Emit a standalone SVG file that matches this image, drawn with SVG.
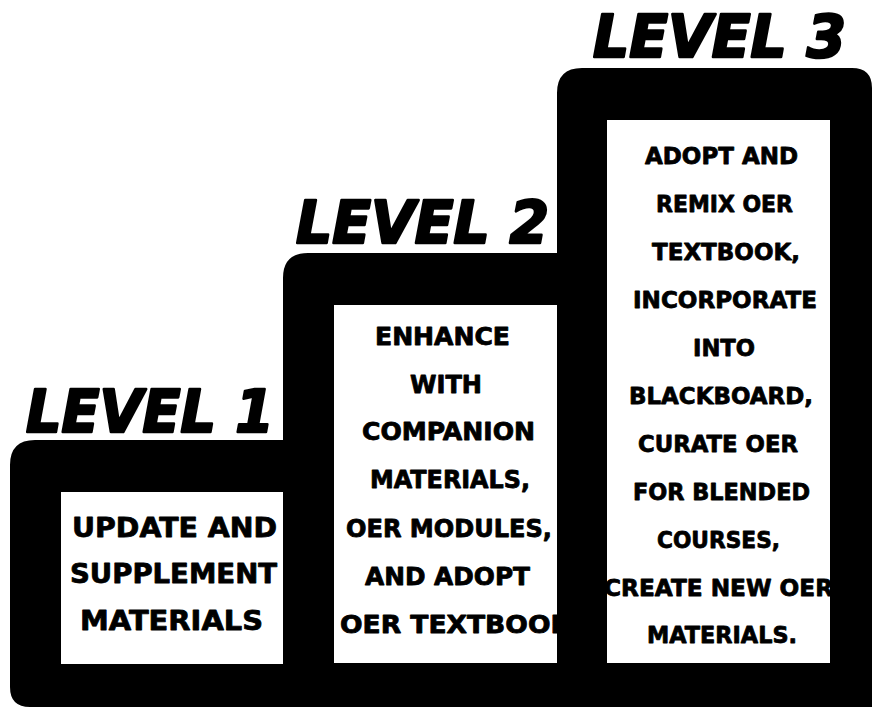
<svg xmlns="http://www.w3.org/2000/svg" width="872" height="709" viewBox="0 0 872 709">
<style>
.title{font-family:"DejaVu Sans","Liberation Sans",sans-serif;font-weight:bold;font-style:italic;font-size:58px;fill:#000;stroke:#000;stroke-width:2.6px;stroke-linejoin:round}
.t{font-family:"DejaVu Sans","Liberation Sans",sans-serif;font-weight:bold;fill:#000;stroke:#000;stroke-width:0.8px;stroke-linejoin:round}
.l1{font-size:27px}
.l2{font-size:24px}
.l3{font-size:23px}
.box{fill:#fff}
</style>
<defs>
<clipPath id="c1"><rect x="61" y="492" width="222" height="172"/></clipPath>
<clipPath id="c2"><rect x="334" y="305" width="223" height="358"/></clipPath>
<clipPath id="c3"><rect x="607" y="120" width="223" height="543"/></clipPath>
</defs>
<rect width="872" height="709" fill="#fff"/>
<g id="stairs">
<path d="M10,465 Q10,440 35,440 L283,440 L283,278 Q283,253 308,253 L557,253 L557,93 Q557,68 582,68 L852,68 Q872,68 872,88 L872,707 L30,707 Q10,707 10,687 Z" fill="#000"/>
</g>
<g id="level1">
<text class="title" x="26" y="432" textLength="248" lengthAdjust="spacingAndGlyphs">LEVEL 1</text>
<rect class="box" x="61" y="492" width="222" height="172"/>
<g clip-path="url(#c1)">
<text class="t l1" x="72" y="537" textLength="205" lengthAdjust="spacingAndGlyphs">UPDATE AND</text>
<text class="t l1" x="70" y="583" textLength="207" lengthAdjust="spacingAndGlyphs">SUPPLEMENT</text>
<text class="t l1" x="80" y="630" textLength="183" lengthAdjust="spacingAndGlyphs">MATERIALS</text>
</g>
</g>
<g id="level2">
<text class="title" x="296" y="243" textLength="253" lengthAdjust="spacingAndGlyphs">LEVEL 2</text>
<rect class="box" x="334" y="305" width="223" height="358"/>
<g clip-path="url(#c2)">
<text class="t l2" x="375" y="345" textLength="135" lengthAdjust="spacingAndGlyphs">ENHANCE</text>
<text class="t l2" x="410" y="393" textLength="72" lengthAdjust="spacingAndGlyphs">WITH</text>
<text class="t l2" x="362" y="440" textLength="173" lengthAdjust="spacingAndGlyphs">COMPANION</text>
<text class="t l2" x="370" y="488" textLength="160" lengthAdjust="spacingAndGlyphs">MATERIALS,</text>
<text class="t l2" x="346" y="537" textLength="206" lengthAdjust="spacingAndGlyphs">OER MODULES,</text>
<text class="t l2" x="365" y="585" textLength="165" lengthAdjust="spacingAndGlyphs">AND ADOPT</text>
<text class="t l2" x="340" y="633" textLength="231" lengthAdjust="spacingAndGlyphs">OER TEXTBOOK</text>
</g>
</g>
<g id="level3">
<text class="title" x="593" y="57" textLength="253" lengthAdjust="spacingAndGlyphs">LEVEL 3</text>
<rect class="box" x="607" y="120" width="223" height="543"/>
<g clip-path="url(#c3)">
<text class="t l3" x="645" y="164" textLength="153" lengthAdjust="spacingAndGlyphs">ADOPT AND</text>
<text class="t l3" x="656" y="212" textLength="137" lengthAdjust="spacingAndGlyphs">REMIX OER</text>
<text class="t l3" x="652" y="260" textLength="148" lengthAdjust="spacingAndGlyphs">TEXTBOOK,</text>
<text class="t l3" x="633" y="308" textLength="184" lengthAdjust="spacingAndGlyphs">INCORPORATE</text>
<text class="t l3" x="693" y="356" textLength="62" lengthAdjust="spacingAndGlyphs">INTO</text>
<text class="t l3" x="629" y="404" textLength="184" lengthAdjust="spacingAndGlyphs">BLACKBOARD,</text>
<text class="t l3" x="638" y="452" textLength="160" lengthAdjust="spacingAndGlyphs">CURATE OER</text>
<text class="t l3" x="633" y="500" textLength="177" lengthAdjust="spacingAndGlyphs">FOR BLENDED</text>
<text class="t l3" x="657" y="548" textLength="123" lengthAdjust="spacingAndGlyphs">COURSES,</text>
<text class="t l3" x="604" y="596" textLength="229" lengthAdjust="spacingAndGlyphs">CREATE NEW OER</text>
<text class="t l3" x="647" y="643" textLength="150" lengthAdjust="spacingAndGlyphs">MATERIALS.</text>
</g>
</g>
</svg>
